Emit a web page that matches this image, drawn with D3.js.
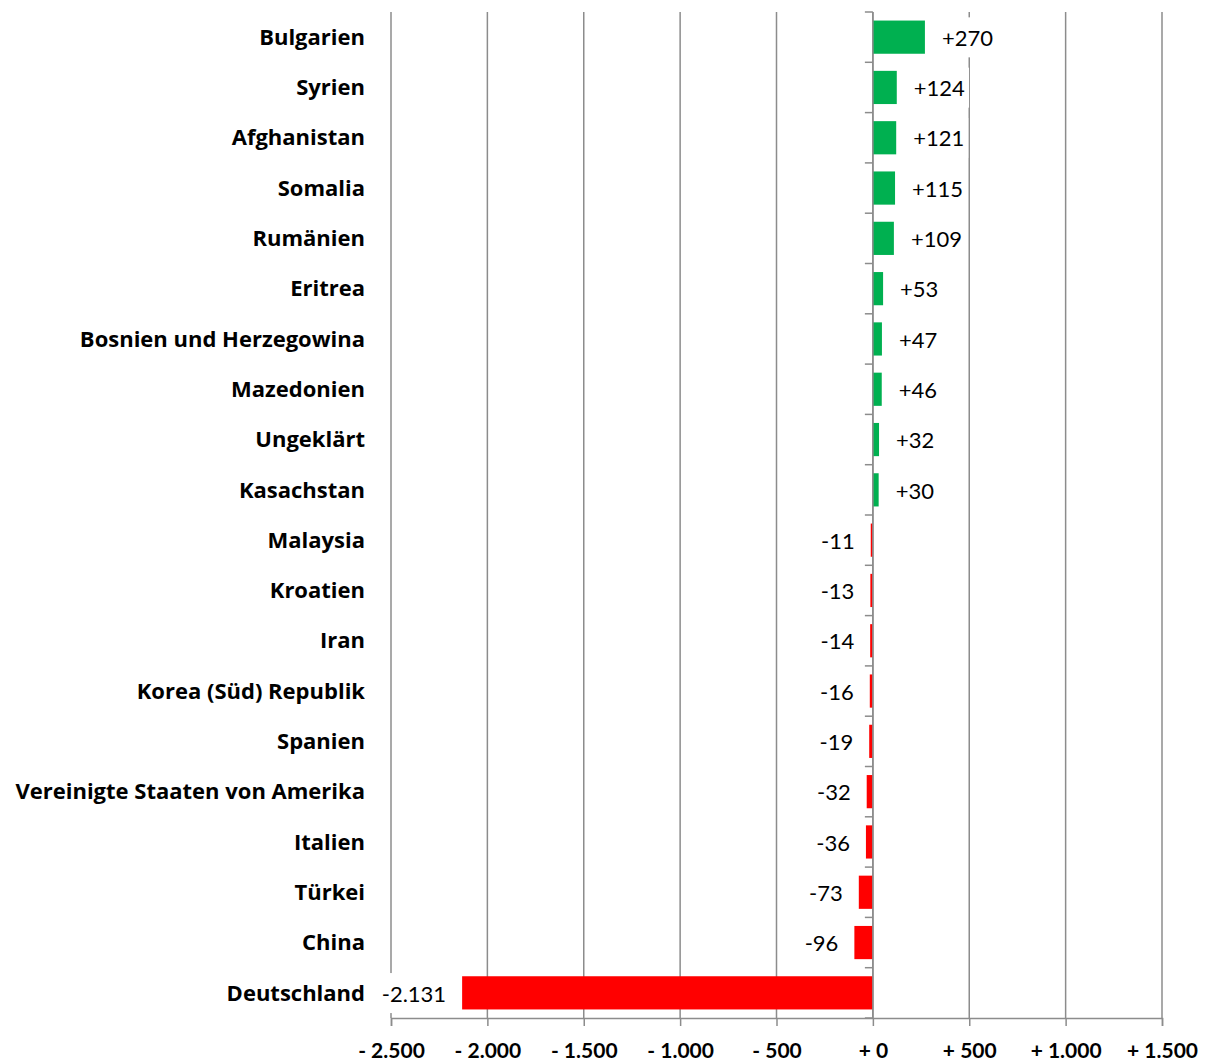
<!DOCTYPE html>
<html>
<head>
<meta charset="utf-8">
<script src="https://cdn.jsdelivr.net/npm/d3@7"></script>
<style>
  body { margin: 0; background: #fff; }
  svg text { font-family: Lato, "Open Sans", sans-serif; }
</style>
</head>
<body>
<svg width="1211" height="1062"></svg>
<script>
var countries = ["Bulgarien", "Syrien", "Afghanistan", "Somalia", "Rumänien", "Eritrea",
    "Bosnien und Herzegowina", "Mazedonien", "Ungeklärt", "Kasachstan", "Malaysia",
    "Kroatien", "Iran", "Korea (Süd) Republik", "Spanien", "Vereinigte Staaten von Amerika",
    "Italien", "Türkei", "China", "Deutschland"];
var changes = [270, 124, 121, 115, 109, 53, 47, 46, 32, 30, -11, -13, -14, -16, -19, -32, -36, -73, -96, -2131];
var tickValues = [-2500, -2000, -1500, -1000, -500, 0, 500, 1000, 1500];

var svg = d3.select("svg");
var grey = "#8c8c8c";

var x = d3.scaleLinear().domain([-2500, 1500]).range([391, 1162]);
var y = d3.scaleBand().domain(countries).range([12, 1018]).paddingInner(0.34).paddingOuter(0.17);

var fmt = d3.formatLocale({decimal: ",", thousands: ".", grouping: [3], currency: ["", "€"]}).format(",d");
function signed(v) { return (v >= 0 ? "+" : "-") + fmt(Math.abs(v)); }
function tickLabel(v) { return (v >= 0 ? "+ " : "- ") + fmt(Math.abs(v)); }

// vertical gridlines
svg.append("g")
    .selectAll("line")
    .data(tickValues)
    .enter().append("line")
    .attr("x1", function(d) { return x(d); })
    .attr("x2", function(d) { return x(d); })
    .attr("y1", 12)
    .attr("y2", 1018)
    .attr("stroke", grey)
    .attr("stroke-width", 1.5);

// bottom axis
var xAxis = d3.axisBottom(x).tickValues(tickValues).tickSize(8).tickFormat(tickLabel);
var gx = svg.append("g").attr("transform", "translate(0,1018)").call(xAxis);
gx.select(".domain").attr("stroke", grey).attr("stroke-width", 1.5);
gx.selectAll(".tick line").attr("stroke", grey).attr("stroke-width", 1.5);
gx.selectAll(".tick text")
    .attr("y", 25)
    .attr("dy", "0.71em")
    .attr("fill", "#000")
    .style("font-size", "21px")
    .style("font-weight", "bold");

// bars
svg.append("g")
    .selectAll("rect")
    .data(changes)
    .enter().append("rect")
    .attr("x", function(d) { return x(Math.min(0, d)); })
    .attr("y", function(d, i) { return y(countries[i]); })
    .attr("width", function(d) { return Math.abs(x(d) - x(0)); })
    .attr("height", y.bandwidth())
    .attr("fill", function(d) { return d >= 0 ? "#00b050" : "#ff0000"; });

// zero axis with category ticks
var bandEdges = countries.map(function(c) { return y(c) - y.step() * y.paddingInner() / 2; });
bandEdges.push(1018);
svg.append("line")
    .attr("x1", x(0)).attr("x2", x(0))
    .attr("y1", 12).attr("y2", 1018)
    .attr("stroke", grey).attr("stroke-width", 1.5);
svg.append("g")
    .selectAll("line")
    .data(bandEdges)
    .enter().append("line")
    .attr("x1", x(0) - 8).attr("x2", x(0))
    .attr("y1", function(d) { return d; })
    .attr("y2", function(d) { return d; })
    .attr("stroke", grey).attr("stroke-width", 1.5);

// category labels
svg.append("g")
    .selectAll("text")
    .data(countries)
    .enter().append("text")
    .attr("x", 365)
    .attr("y", function(d) { return y(d) + y.bandwidth() / 2; })
    .attr("dy", "0.35em")
    .attr("text-anchor", "end")
    .style("font-family", "'Open Sans', sans-serif")
    .style("font-size", "22px")
    .style("font-weight", "bold")
    .text(function(d) { return d; });

// value labels with white background
var labels = svg.append("g")
    .selectAll("g")
    .data(changes)
    .enter().append("g");

labels.append("text")
    .attr("x", function(d) { return d >= 0 ? x(d) + 17 : x(d) - 16; })
    .attr("y", function(d, i) { return y(countries[i]) + y.bandwidth() / 2 + 1; })
    .attr("dy", "0.35em")
    .attr("text-anchor", function(d) { return d >= 0 ? "start" : "end"; })
    .style("font-size", "22px")
    .text(signed);

labels.each(function() {
    var g = d3.select(this);
    var b = g.select("text").node().getBBox();
    g.insert("rect", "text")
        .attr("x", b.x - 4)
        .attr("y", b.y + b.height / 2 - 20)
        .attr("width", b.width + 8)
        .attr("height", 40)
        .attr("fill", "#fff");
});
</script>
</body>
</html>
